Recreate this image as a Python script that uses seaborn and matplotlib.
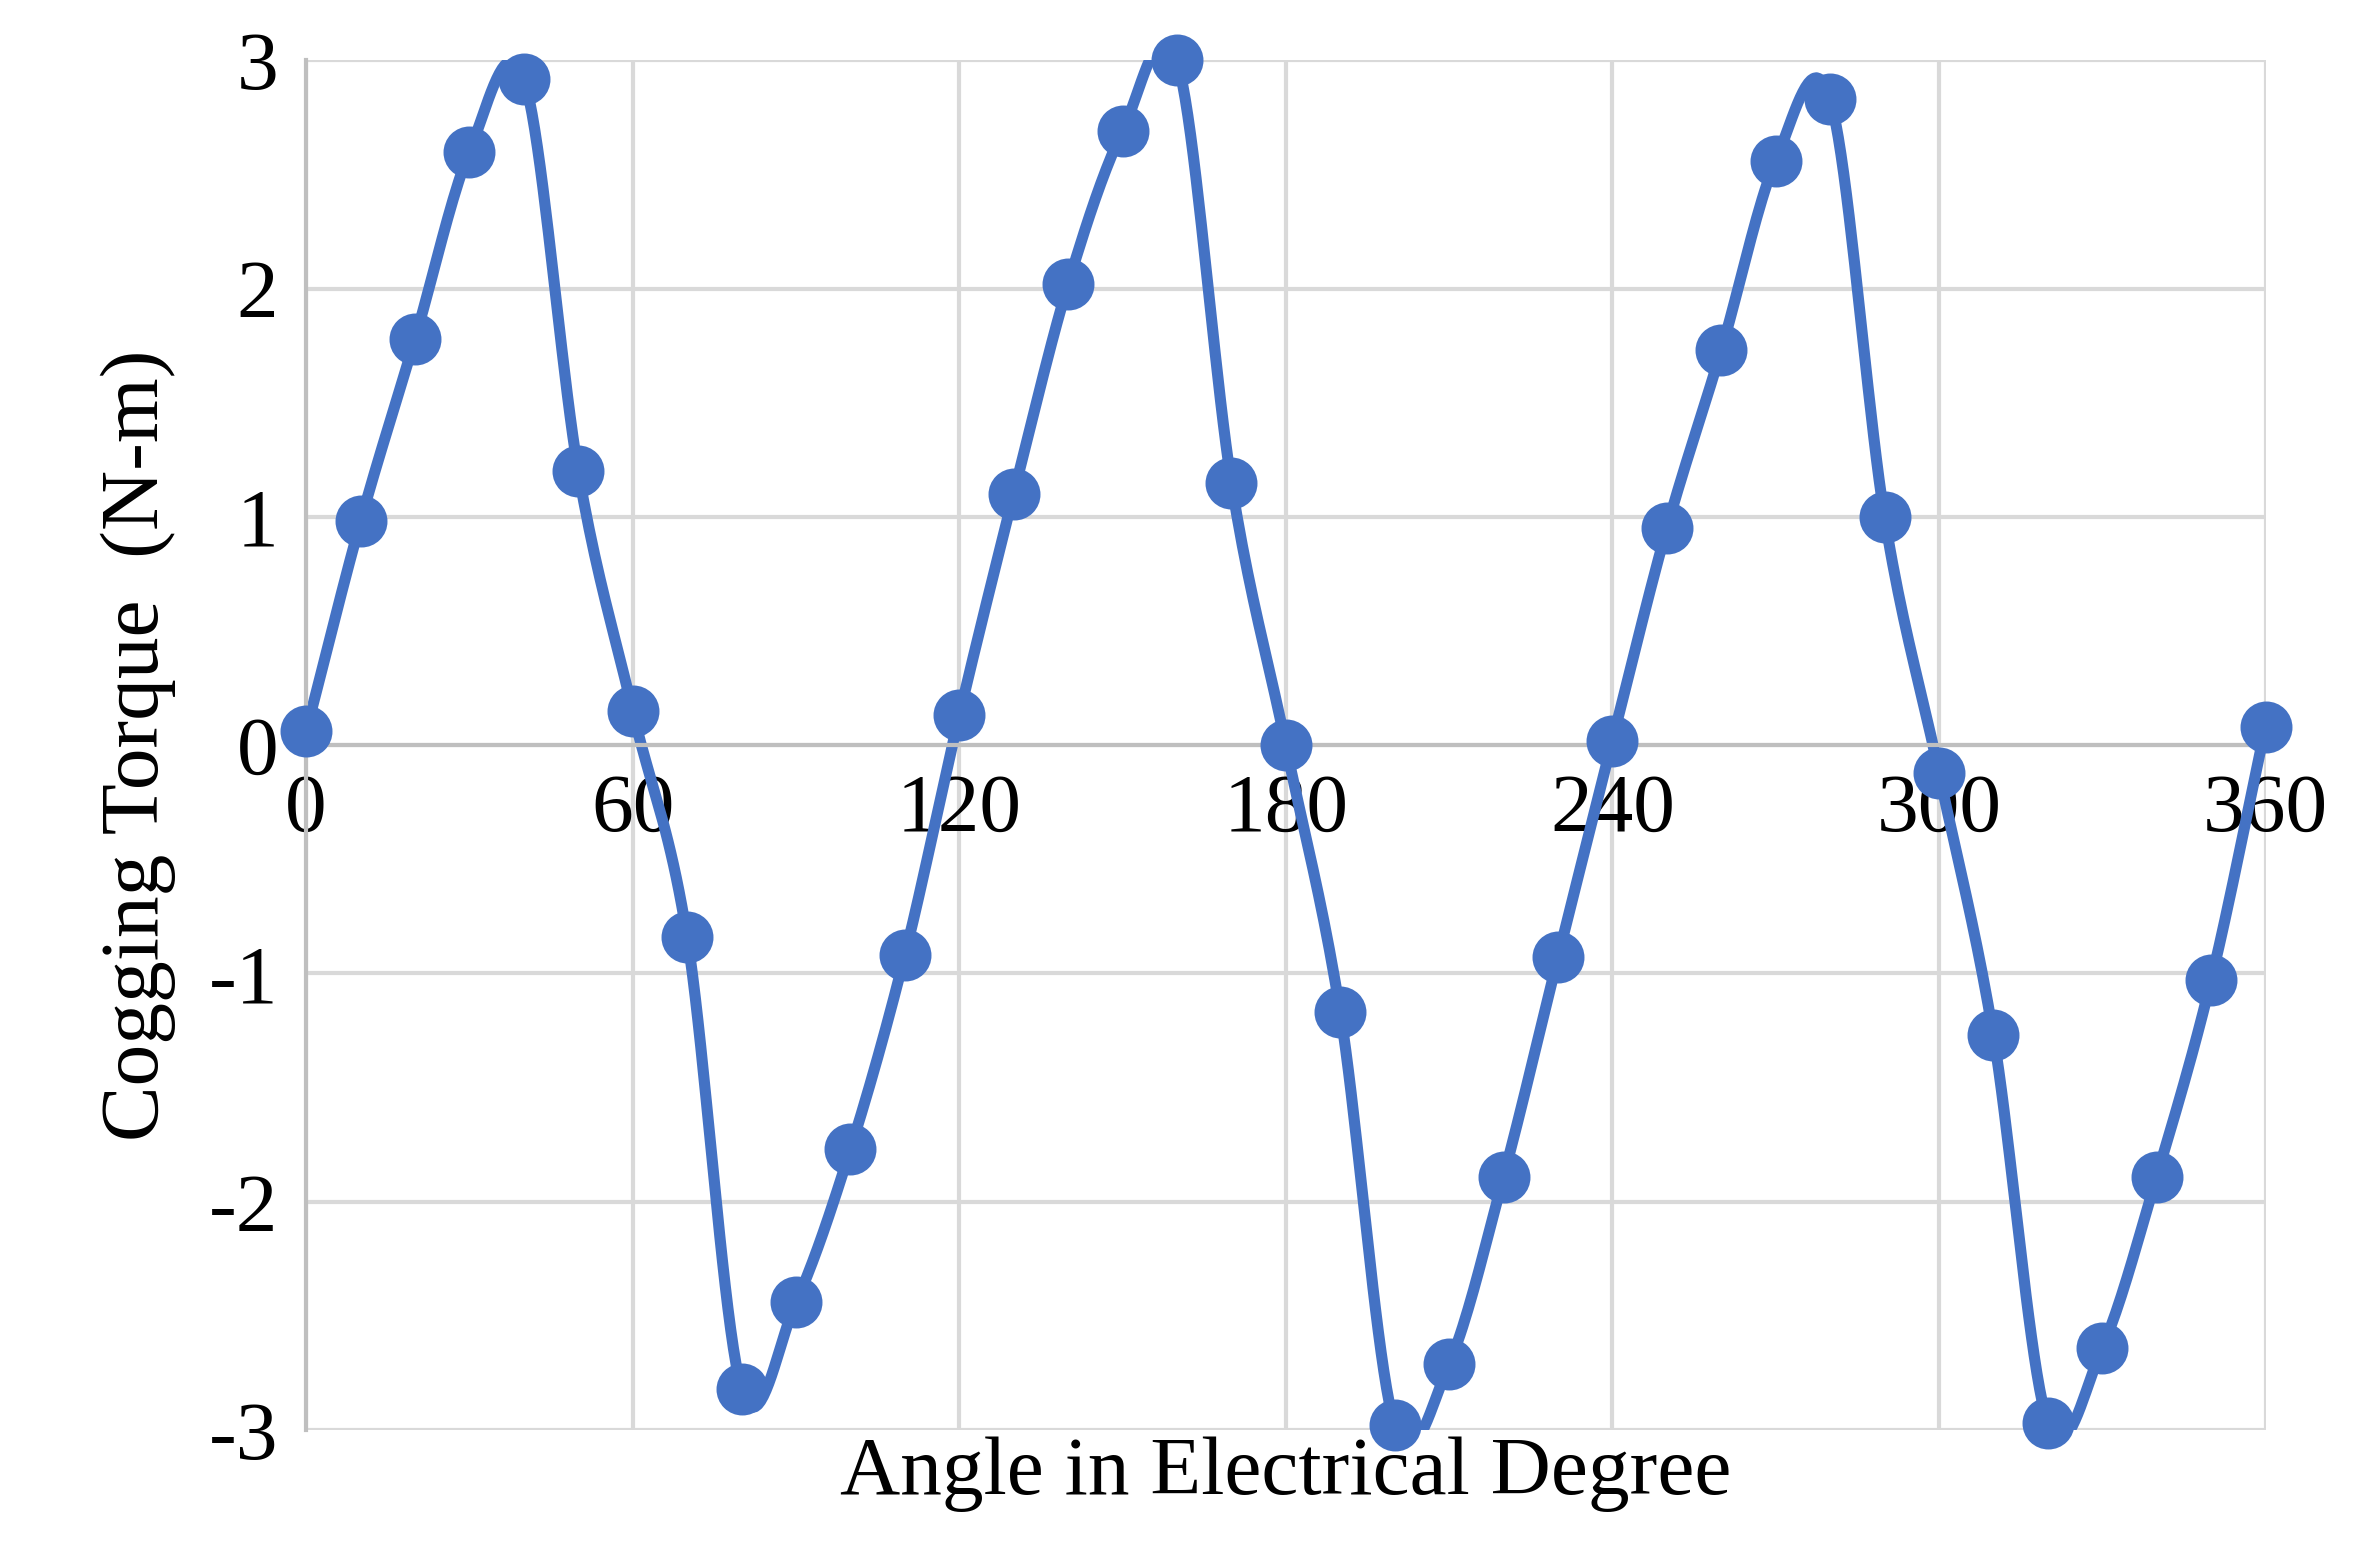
import numpy as np
import matplotlib.pyplot as plt
import seaborn as sns

angle = list(range(0, 361, 10))
torque = [0.06, 0.98, 1.78, 2.60, 2.92, 1.20, 0.15, -0.84, -2.82, -2.44,
          -1.77, -0.92, 0.13, 1.10, 2.02, 2.69, 3.00, 1.15, 0.00, -1.17,
          -2.98, -2.71, -1.89, -0.93, 0.02, 0.95, 1.73, 2.56, 2.83, 1.00,
          -0.12, -1.27, -2.97, -2.64, -1.89, -1.03, 0.08]
xticks = [0, 60, 120, 180, 240, 300, 360]
yticks = [-3, -2, -1, 0, 1, 2, 3]


def catmull_rom(x, y, n=20):
    # Excel-style smoothed line through the points
    x = np.asarray(x, float)
    y = np.asarray(y, float)
    px = np.concatenate([[2 * x[0] - x[1]], x, [2 * x[-1] - x[-2]]])
    py = np.concatenate([[2 * y[0] - y[1]], y, [2 * y[-1] - y[-2]]])
    xs, ys = [], []
    t = np.linspace(0, 1, n, endpoint=False)
    for i in range(1, len(px) - 2):
        for p, out in ((px, xs), (py, ys)):
            p0, p1, p2, p3 = p[i - 1], p[i], p[i + 1], p[i + 2]
            out.extend(0.5 * (2 * p1 + (-p0 + p2) * t
                              + (2 * p0 - 5 * p1 + 4 * p2 - p3) * t ** 2
                              + (-p0 + 3 * p1 - 3 * p2 + p3) * t ** 3))
    xs.append(x[-1])
    ys.append(y[-1])
    return np.array(xs), np.array(ys)


sns.set_style("white")
plt.rcParams['font.family'] = ['Liberation Serif', 'DejaVu Serif']
plt.rcParams['axes.unicode_minus'] = False
plt.rcParams['text.color'] = 'black'
plt.rcParams['axes.labelcolor'] = 'black'
plt.rcParams['xtick.color'] = 'black'
plt.rcParams['ytick.color'] = 'black'

fig, ax = plt.subplots(figsize=(11.775, 7.73), dpi=200)
fig.subplots_adjust(left=0.13, right=0.962, top=0.961, bottom=0.075)

color = '#4472C4'
sx, sy = catmull_rom(angle, torque)
sns.lineplot(x=sx, y=sy, ax=ax, color=color, linewidth=4, sort=False)
sns.scatterplot(x=angle, y=torque, ax=ax, color=color, s=300, edgecolor=color,
                zorder=3, clip_on=False)

ax.set_xlim(0, 360)
ax.set_ylim(-3, 3)
ax.set_xticks(xticks)
ax.set_yticks(yticks)
ax.grid(True, color='#d9d9d9', linewidth=1.5)
for s in ['top', 'right']:
    ax.spines[s].set_visible(False)
ax.spines['bottom'].set_position(('data', 0))
ax.spines['bottom'].set_color('#bfbfbf')
ax.spines['left'].set_color('#bfbfbf')
ax.spines['bottom'].set_linewidth(1.5)
ax.spines['left'].set_linewidth(1.5)
ax.tick_params(axis='both', labelsize=30, length=0, pad=10)
ax.set_xlabel('Angle in Electrical Degree', fontsize=30, labelpad=0)
ax.xaxis.set_label_coords(0.5, -0.005)
ax.set_ylabel('Cogging Torque  (N-m)', fontsize=30, labelpad=12)

fig.savefig('out.png', dpi=200)
